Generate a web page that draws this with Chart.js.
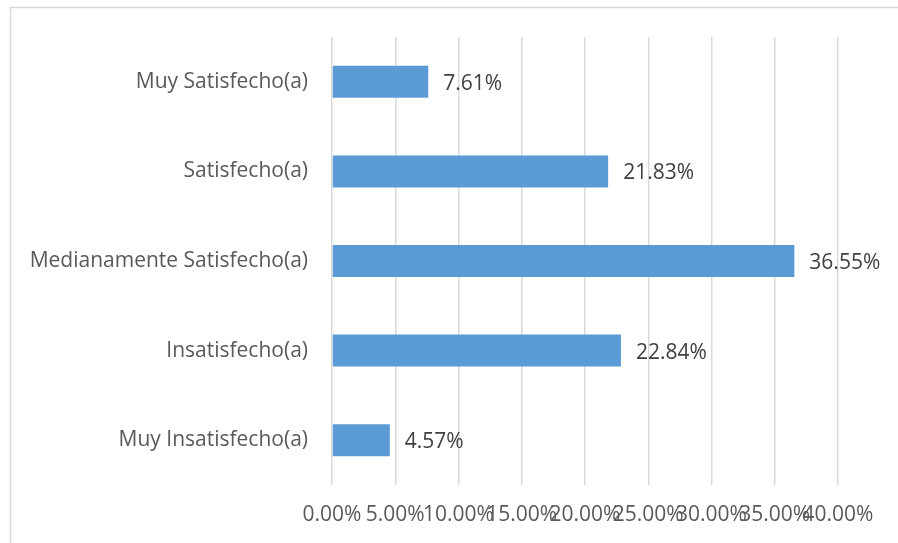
<!DOCTYPE html>
<html>
<head>
<meta charset="utf-8">
<script src="https://cdn.jsdelivr.net/npm/chart.js@4"></script>
<style>
  html, body { margin: 0; padding: 0; background: #fff; }
</style>
</head>
<body>
<canvas id="satChart" width="898" height="543"></canvas>
<script>
const categories = [
  "Muy Satisfecho(a)",
  "Satisfecho(a)",
  "Medianamente Satisfecho(a)",
  "Insatisfecho(a)",
  "Muy Insatisfecho(a)",
];
const percentages = [7.61, 21.83, 36.55, 22.84, 4.57];
const tickValues = [0, 5, 10, 15, 20, 25, 30, 35, 40];

const FONT = "'Open Sans', sans-serif";
const FONT_SIZE = 21;

// light frame around the whole chart
const framePlugin = {
  id: "frame",
  beforeDraw(chart) {
    const ctx = chart.ctx;
    ctx.save();
    ctx.fillStyle = "#fff";
    ctx.fillRect(0, 0, chart.width, chart.height);
    ctx.strokeStyle = "#d9d9d9";
    ctx.lineWidth = 1.5;
    ctx.strokeRect(10.5, 7.5, 1000, 1000);
    ctx.restore();
  },
};

// value labels to the right of each bar
const valueLabels = {
  id: "valueLabels",
  afterDatasetsDraw(chart) {
    const ctx = chart.ctx;
    const meta = chart.getDatasetMeta(0);
    ctx.save();
    ctx.font = FONT_SIZE + "px " + FONT;
    ctx.fillStyle = "#404040";
    ctx.textAlign = "left";
    ctx.textBaseline = "middle";
    meta.data.forEach((bar, i) => {
      const v = chart.data.datasets[0].data[i];
      ctx.fillText(v.toFixed(2) + "%", bar.x + 15, bar.y + 2);
    });
    ctx.restore();
  },
};

new Chart(document.getElementById("satChart"), {
  type: "bar",
  data: {
    labels: categories,
    datasets: [
      {
        data: percentages,
        backgroundColor: "#5b9bd5",
        borderWidth: 0,
        barPercentage: 0.357,
        categoryPercentage: 1,
      },
    ],
  },
  options: {
    responsive: false,
    animation: false,
    indexAxis: "y",
    layout: { padding: { top: 37, right: 60, bottom: 0, left: 0 } },
    plugins: {
      legend: { display: false },
      tooltip: { enabled: false },
    },
    scales: {
      x: {
        min: 0,
        max: 40,
        afterBuildTicks(scale) {
          scale.ticks = tickValues.map((v) => ({ value: v }));
        },
        afterFit(scale) {
          scale.height = 58;
        },
        grid: { color: "#d9d9d9", lineWidth: 1.5, drawTicks: false },
        border: { display: false },
        ticks: {
          autoSkip: false,
          maxRotation: 0,
          minRotation: 0,
          padding: 17,
          color: "#595959",
          font: { family: FONT, size: FONT_SIZE },
          callback: (v) => Number(v).toFixed(2) + "%",
        },
      },
      y: {
        afterFit(scale) {
          scale.width = 332;
        },
        grid: { display: false },
        border: { display: false },
        ticks: {
          padding: 16,
          color: "#595959",
          font: { family: FONT, size: FONT_SIZE },
        },
      },
    },
  },
  plugins: [framePlugin, valueLabels],
});
</script>
</body>
</html>
